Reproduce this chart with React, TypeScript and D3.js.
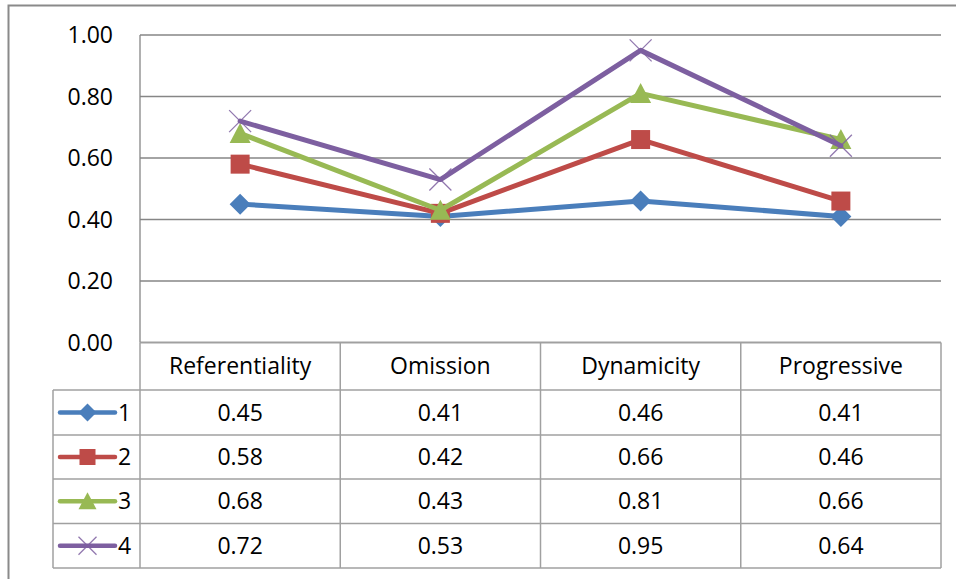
import React from "react";
import * as d3 from "d3";

const categories = ["Referentiality", "Omission", "Dynamicity", "Progressive"];
const seriesNames = ["1", "2", "3", "4"];
const series1 = [0.45, 0.41, 0.46, 0.41];
const series2 = [0.58, 0.42, 0.66, 0.46];
const series3 = [0.68, 0.43, 0.81, 0.66];
const series4 = [0.72, 0.53, 0.95, 0.64];
const yTicks = [0, 0.2, 0.4, 0.6, 0.8, 1.0];
const colors = ["#4A7EBB", "#BE4B48", "#98B954", "#7D5FA0"];
const markers = ["diamond", "square", "triangle", "x"];

const W = 956;
const H = 579;
const FONT = "'Open Sans', 'Noto Sans', sans-serif";
const FS = 23;

const plotLeft = 140;
const plotRight = 941;
const plotTop = 35;
const plotBottom = 342.5;
const rowTops = [342.5, 390, 435, 479, 523.5, 568];
const legendLeft = 53;

function Marker({ type, x, y, color, s }: { type: string; x: number; y: number; color: string; s: number }) {
  const h = s / 2;
  if (type === "diamond") {
    return <path d={`M${x},${y - h - 1}L${x + h + 1},${y}L${x},${y + h + 1}L${x - h - 1},${y}Z`} fill={color} />;
  }
  if (type === "square") {
    return <rect x={x - h} y={y - h} width={s} height={s} fill={color} />;
  }
  if (type === "triangle") {
    return <path d={`M${x},${y - h - 1}L${x + h + 1},${y + h}L${x - h - 1},${y + h}Z`} fill={color} />;
  }
  return (
    <g stroke={color} strokeWidth={1.3} opacity={0.85}>
      <line x1={x - h} y1={y - h} x2={x + h} y2={y + h} />
      <line x1={x - h} y1={y + h} x2={x + h} y2={y - h} />
    </g>
  );
}

export default function App() {
  const data = [series1, series2, series3, series4];
  const x = d3.scaleBand<string>().domain(categories).range([plotLeft, plotRight]);
  const y = d3.scaleLinear().domain([0, 1]).range([plotBottom, plotTop]);
  const line = d3
    .line<number>()
    .x((_, i) => (x(categories[i]) as number) + x.bandwidth() / 2)
    .y((d) => y(d));

  const gridColor = "#868686";
  const tableColor = "#A0A0A0";

  return (
    <svg width={W} height={H} style={{ position: "absolute", left: 0, top: 0, background: "#fff" }} fontFamily={FONT}>
      <rect x={0} y={0} width={W} height={H} fill="#fff" />
      {/* outer frame */}
      <rect x={8.5} y={5.5} width={W + 20} height={H + 20} fill="none" stroke="#8A8A8A" strokeWidth={2} />

      {/* gridlines */}
      {yTicks.map((t) => (
        <line key={t} x1={plotLeft} x2={plotRight} y1={y(t)} y2={y(t)} stroke={gridColor} strokeWidth={1.3} />
      ))}
      <line x1={plotLeft} x2={plotLeft} y1={plotTop} y2={plotBottom} stroke={gridColor} strokeWidth={1.3} />

      {/* y labels */}
      {yTicks.map((t) => (
        <text key={t} x={113} y={y(t)} dy="0.35em" textAnchor="end" fontSize={FS} fill="#000">
          {d3.format(".2f")(t)}
        </text>
      ))}

      {/* table */}
      <g stroke={tableColor} strokeWidth={1.5} fill="none">
        {rowTops.map((r, i) => (
          <line key={"h" + i} x1={i === 0 ? plotLeft : legendLeft} x2={plotRight} y1={r} y2={r} />
        ))}
        {categories.map((c) => (
          <line key={"v" + c} x1={x(c)} x2={x(c)} y1={rowTops[0]} y2={rowTops[5]} />
        ))}
        <line x1={plotRight} x2={plotRight} y1={rowTops[0]} y2={rowTops[5]} />
        <line x1={legendLeft} x2={legendLeft} y1={rowTops[1]} y2={rowTops[5]} />
      </g>
      {categories.map((c) => (
        <text key={"c" + c} x={(x(c) as number) + x.bandwidth() / 2} y={(rowTops[0] + rowTops[1]) / 2} dy="0.35em" textAnchor="middle" fontSize={FS} fill="#000">
          {c}
        </text>
      ))}
      {data.map((s, si) => (
        <g key={"row" + si}>
          <line x1={60} x2={115} y1={(rowTops[si + 1] + rowTops[si + 2]) / 2} y2={(rowTops[si + 1] + rowTops[si + 2]) / 2} stroke={colors[si]} strokeWidth={4.5} strokeLinecap="round" />
          <Marker type={markers[si]} x={87.5} y={(rowTops[si + 1] + rowTops[si + 2]) / 2} color={colors[si]} s={si === 3 ? 18 : 16} />
          <text x={118} y={(rowTops[si + 1] + rowTops[si + 2]) / 2} dy="0.35em" fontSize={FS} fill="#000">
            {seriesNames[si]}
          </text>
          {s.map((v, i) => (
            <text key={i} x={(x(categories[i]) as number) + x.bandwidth() / 2} y={(rowTops[si + 1] + rowTops[si + 2]) / 2} dy="0.35em" textAnchor="middle" fontSize={FS} fill="#000">
              {d3.format(".2f")(v)}
            </text>
          ))}
        </g>
      ))}

      {/* series */}
      {data.map((s, si) => (
        <g key={"s" + si}>
          <path d={line(s) || ""} fill="none" stroke={colors[si]} strokeWidth={5} strokeLinejoin="round" strokeLinecap="round" />
          {s.map((v, i) => (
            <Marker key={i} type={markers[si]} x={(x(categories[i]) as number) + x.bandwidth() / 2} y={y(v)} color={colors[si]} s={si === 3 ? 22 : 19} />
          ))}
        </g>
      ))}
    </svg>
  );
}
